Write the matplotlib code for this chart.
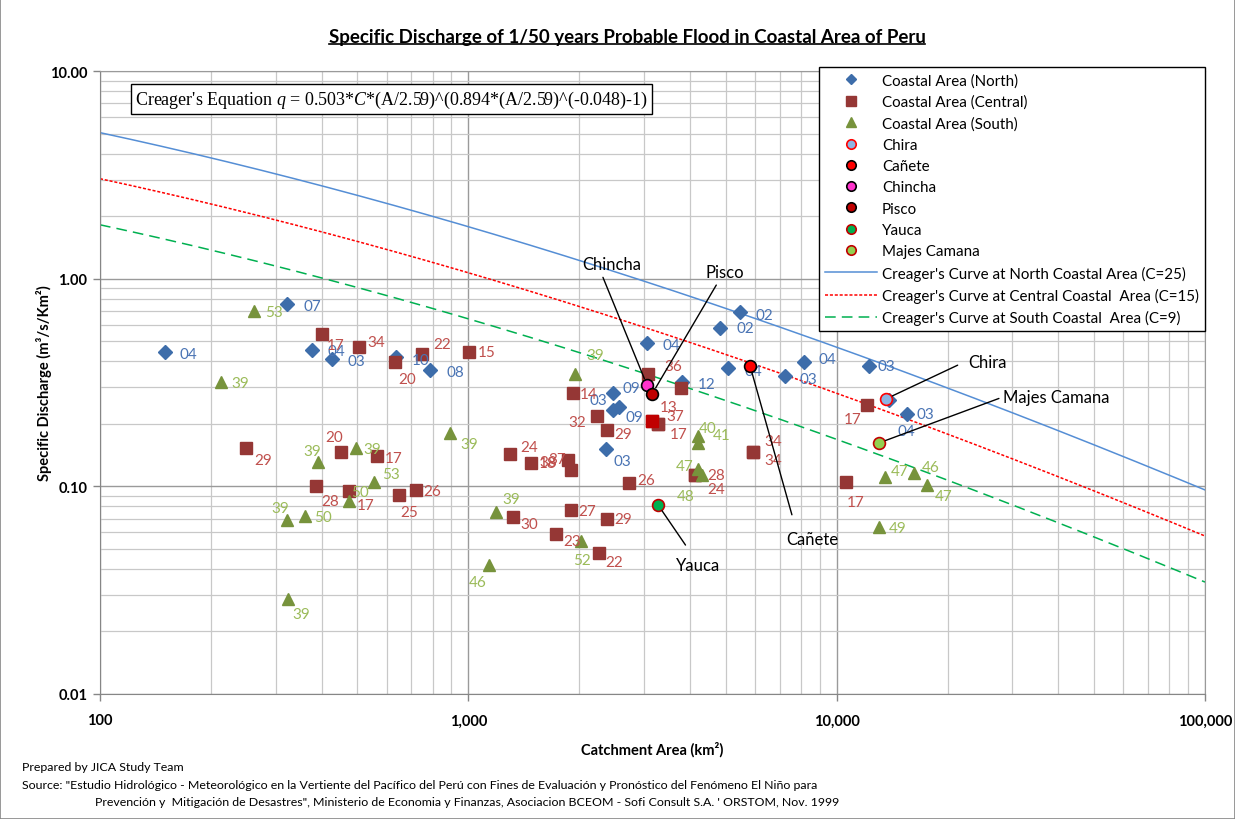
import numpy as np
import matplotlib as mpl
mpl.use('Agg')
import matplotlib.pyplot as plt
from matplotlib.lines import Line2D
from matplotlib.patches import Rectangle
from matplotlib.ticker import FixedLocator, FixedFormatter, LogLocator, NullFormatter

#------------------------------------------------------------------------------
# DATA
#------------------------------------------------------------------------------
north_area = [150, 322, 376, 427, 636, 787, 3055, 4820, 5470, 5070, 7250, 8160,
              12250, 13900, 15520, 2366, 2472, 2472, 2565, 3800]
north_q = [0.444, 0.755, 0.454, 0.410, 0.420, 0.363, 0.490, 0.579, 0.692, 0.372,
           0.340, 0.397, 0.380, 0.261, 0.223, 0.151, 0.282, 0.233, 0.241, 0.318]
north_labels = ['04', '07', '04', '03', '10', '08', '04', '02', '02', '04', '03', '04',
                '03', '04', '03', '03', '09', '03', '09', '12']

central_area = [401, 505, 632, 748, 1004, 249, 451, 565, 386, 474, 649, 721, 1923,
                2234, 2381, 1297, 1479, 1865, 1900, 2729, 1900, 2381, 1321, 1730,
                2264, 3075, 3780, 3275, 3275, 5930, 5930, 4127, 4127, 12090, 10605, 3155]
central_q = [0.542, 0.469, 0.397, 0.434, 0.444, 0.153, 0.147, 0.140, 0.100, 0.095,
             0.091, 0.096, 0.282, 0.218, 0.187, 0.143, 0.130, 0.134, 0.120, 0.104,
             0.077, 0.0697, 0.0713, 0.059, 0.0478, 0.3475, 0.298, 0.1998, 0.1998,
             0.1466, 0.1466, 0.1135, 0.1135, 0.2466, 0.105, 0.2065]
central_labels = ['17', '34', '20', '22', '15', '29', '20', '17', '28', '17', '25', '26',
                  '14', '32', '29', '24', '18', '37', '38', '26', '27', '29', '30', '23',
                  '22', '36', '', '37', '17', '34', '34', '28', '24', '17', '17', '13']

south_area = [262, 213, 391, 495, 555, 474, 322, 360, 324, 891, 1189, 1138, 2023,
              1950, 4207, 4207, 4207, 4311, 13520, 16220, 17600, 13030]
south_q = [0.699, 0.318, 0.131, 0.153, 0.105, 0.0851, 0.0689, 0.0720, 0.0287, 0.181,
           0.0754, 0.0419, 0.0546, 0.3475, 0.175, 0.162, 0.1213, 0.1135, 0.111, 0.116,
           0.1016, 0.0637]
south_labels = ['53', '39', '39', '39', '53', '50', '39', '50', '39', '39', '39', '46',
                '52', '39', '40', '41', '47', '48', '47', '46', '47', '49']

river_names = ['Chira', 'Cañete', 'Chincha', 'Pisco', 'Yauca', 'Majes Camana']
river_area = [13610, 5820, 3055, 3155, 3275, 13030]
river_q = [0.2636, 0.380, 0.3076, 0.2787, 0.0813, 0.1618]

creager_c = [25, 15, 9]
creager_names = ["Creager's Curve at North Coastal Area (C=25)",
                 "Creager's Curve at Central Coastal  Area (C=15)",
                 "Creager's Curve at South Coastal  Area (C=9)"]

#------------------------------------------------------------------------------
# STYLE
#------------------------------------------------------------------------------
plt.rcParams['font.family'] = ['Lato', 'DejaVu Sans']
plt.rcParams['mathtext.fontset'] = 'custom'
plt.rcParams['mathtext.rm'] = 'Liberation Serif'
plt.rcParams['mathtext.it'] = 'Liberation Serif:italic'

c_north = '#3D6DAA'
c_central = '#953735'
c_south = '#77933C'
lab_north = '#4A74B4'
lab_central = '#C0504D'
lab_south = '#9BBB59'

river_fc = ['#8DB4E2', '#FF0000', '#FF33CC', '#C00000', '#00B050', '#92D050']
river_ec = ['#FF0000', '#000000', '#000000', '#000000', '#C00000', '#C00000']

curve_col = ['#558ED5', '#FF0000', '#00B050']
curve_ls = ['-', (0, (2, 1.2)), (0, (7, 4))]

# label offsets in pixels (right, down) of the label's left edge from the point
north_off = [(15, 2), (16, 2), (16, 1), (15, 2), (16, 3), (16, 2), (16, 2), (17, 0),
             (15, 3), (16, 3), (14, 3), (14, -3), (8, 0), (8, 31), (10, 0), (7, 12),
             (9, -5), (-24, -10), (6, 10), (16, 2)]
central_off = [(5, 11), (8, -5), (3, 17), (11, -10), (9, 0), (8, 12), (-16, -15), (8, 2),
               (5, 15), (8, 14), (1, 17), (7, 1), (7, 1), (-29, 6), (7, 4), (10, -7),
               (8, 0), (-20, -1), (-32, -8), (8, -3), (7, 1), (7, 0), (7, 7), (7, 7),
               (6, 9), (16, -8), (0, 0), (8, -8), (12, 10), (11, -11), (11, 8), (12, 0),
               (12, 14), (-23, 14), (1, 20), (8, -14)]
south_off = [(11, 1), (10, 1), (-15, -11), (8, 1), (8, -8), (2, -9), (-16, -12), (9, 1),
             (4, 15), (10, 11), (6, -13), (-20, 17), (-8, 19), (11, -19), (1, -8), (15, -8),
             (-22, -3), (-25, 21), (6, -6), (8, -6), (8, 11), (10, 1)]

# annotation: (text offset px right, px up), ha, va, relpos, shrinkA
ann = {'Chincha': ((-35, 113), 'center', 'bottom', (0.31, 0.0), 2),
       'Pisco': ((73, 114), 'center', 'bottom', (0.35, 0.0), 2),
       'Cañete': ((62, -165), 'center', 'top', (0.2, 1.0), 10),
       'Yauca': ((40, -52), 'center', 'top', (0.4, 1.0), 8),
       'Chira': ((82, 37), 'left', 'center', (0.0, 0.6), 6),
       'Majes Camana': ((124, 46), 'left', 'center', (0.0, 0.5), 1)}

W, H = 1235, 820
fig = plt.figure(figsize=(W/100, H/100), dpi=100)
fig.patches.append(Rectangle((0, 0), 1, 1, transform=fig.transFigure, fill=False,
                             edgecolor='#868686', lw=1.2))
ax = fig.add_axes([100/W, 1-695/H, 1105/W, 623/H])
ax.set_xscale('log')
ax.set_yscale('log')
ax.set_xlim(100, 100000)
ax.set_ylim(0.01, 10)

# grid
ax.xaxis.set_major_locator(FixedLocator([100, 1000, 10000, 100000]))
ax.xaxis.set_major_formatter(FixedFormatter(['100', '1,000', '10,000', '100,000']))
ax.yaxis.set_major_locator(FixedLocator([0.01, 0.1, 1, 10]))
ax.yaxis.set_major_formatter(FixedFormatter(['0.01', '0.10', '1.00', '10.00']))
ax.xaxis.set_minor_locator(LogLocator(base=10, subs=np.arange(2, 10)))
ax.yaxis.set_minor_locator(LogLocator(base=10, subs=np.arange(2, 10)))
ax.xaxis.set_minor_formatter(NullFormatter())
ax.yaxis.set_minor_formatter(NullFormatter())
ax.grid(which='major', color='#9a9a9a', lw=1.0)
ax.grid(which='minor', color='#c8c8c8', lw=0.9)
ax.set_axisbelow(True)
ax.tick_params(which='major', length=5, width=1, color='#868686', labelsize=10.5)
ax.tick_params(axis='x', which='major', pad=9)
ax.tick_params(axis='y', which='major', pad=4)
ax.tick_params(which='minor', length=0)
for lab in ax.get_xticklabels() + ax.get_yticklabels():
    lab.set_fontweight('bold')
for s in ax.spines.values():
    s.set_color('#9a9a9a')
ax.spines['left'].set_color('#868686')
ax.spines['bottom'].set_color('#868686')

# Creager curves
A = np.logspace(2, 5, 400)
curve_handles = []
for c, name, col, ls in zip(creager_c, creager_names, curve_col, curve_ls):
    q = 0.503*c*(A/2.59)**(0.894*(A/2.59)**(-0.048) - 1)
    h, = ax.plot(A, q, color=col, ls=ls, lw=1.1, label=name, zorder=2)
    curve_handles.append(h)

# observed points
hn, = ax.plot(north_area, north_q, 'D', color=c_north, ms=7, mec=c_north,
              label='Coastal Area (North)', zorder=3)
hc, = ax.plot(central_area, central_q, 's', color=c_central, ms=8.5, mec=c_central,
              label='Coastal Area (Central)', zorder=4)
hl = [i for i, lab in enumerate(central_labels) if lab == '13']
ax.plot(np.array(central_area)[hl], np.array(central_q)[hl], 's', color='#C00000',
        ms=8.5, mec='#C00000', zorder=4)
hs, = ax.plot(south_area, south_q, '^', color=c_south, ms=9, mec=c_south,
              label='Coastal Area (South)', zorder=5)

def add_labels(xs, ys, labs, offs, color):
    for x, y, lab, (dx, dy) in zip(xs, ys, labs, offs):
        ax.annotate(lab, (x, y), xytext=(dx*0.72, -dy*0.72), textcoords='offset points',
                    ha='left', va='center', fontsize=11, color=color, zorder=6)

add_labels(north_area, north_q, north_labels, north_off, lab_north)
add_labels(central_area, central_q, central_labels, central_off, lab_central)
add_labels(south_area, south_q, south_labels, south_off, lab_south)

# rivers of interest
river_handles = []
for name, x, y, fc, ec in zip(river_names, river_area, river_q, river_fc, river_ec):
    h, = ax.plot([x], [y], 'o', ms=8.5, mfc=fc, mec=ec, mew=1.2, label=name, zorder=7)
    river_handles.append(h)
    (dx, dy), ha, va, rp, sa = ann[name]
    ax.annotate(name, (x, y), xytext=(dx*0.72, dy*0.72), textcoords='offset points',
                ha=ha, va=va, fontsize=12, color='black', zorder=8,
                arrowprops=dict(arrowstyle='-', color='black', lw=1, relpos=rp,
                                shrinkA=sa, shrinkB=5))

# equation box
ax.text(0.0317, 0.955,
        "Creager's Equation $q$ = 0.503*$C$*(A/2.59)^(0.894*(A/2.59)^(-0.048)-1)",
        transform=ax.transAxes, ha='left', va='center', fontsize=13,
        family='Liberation Serif', zorder=9,
        bbox=dict(boxstyle='square,pad=0.25', fc='white', ec='black', lw=1))

handles = [hn, hc, hs] + river_handles + curve_handles
leg = ax.legend(handles=handles, loc='upper right', bbox_to_anchor=(1.0, 1.0 + 4/623),
                fontsize=10.9, frameon=True, fancybox=False, framealpha=1,
                edgecolor='black', borderpad=0.4, labelspacing=0.48,
                handlelength=3.4, handletextpad=0.35, borderaxespad=0, markerscale=0.8)
leg.get_frame().set_linewidth(1.0)
leg.set_zorder(10)

ax.set_xlabel('Catchment Area (km²)', fontsize=10.5, fontweight='bold', labelpad=10)
ax.set_ylabel('Specific Discharge (m³/s/Km²)', fontsize=10.5, fontweight='bold')
ax.yaxis.set_label_coords(-(100-52)/1105, 0.5)

title = fig.text(627/W, 1-38/H,
                 'Specific Discharge of 1/50 years Probable Flood in Coastal Area of Peru',
                 ha='center', va='center', fontsize=13.5, fontweight='bold')

fig.text(22/W, 1-768/H, 'Prepared by JICA Study Team', fontsize=8.9, va='center')
fig.text(22/W, 1-786/H,
         'Source: "Estudio Hidrológico - Meteorológico en la Vertiente del Pacífico del Perú con '
         'Fines de Evaluación y Pronóstico del Fenómeno El Niño para', fontsize=8.9, va='center')
fig.text(95/W, 1-803/H,
         'Prevención y  Mitigación de Desastres", Ministerio de Economia y Finanzas, Asociacion '
         "BCEOM - Sofi Consult S.A. ' ORSTOM, Nov. 1999", fontsize=8.9, va='center')

# underline the title
fig.canvas.draw()
bb = title.get_window_extent().transformed(fig.transFigure.inverted())
fig.add_artist(Line2D([bb.x0, bb.x1], [bb.y0 + 0.002, bb.y0 + 0.002],
                      transform=fig.transFigure, color='black', lw=1.2))

plt.savefig('out.png', dpi=100)
plt.close('all')
print('** END')
